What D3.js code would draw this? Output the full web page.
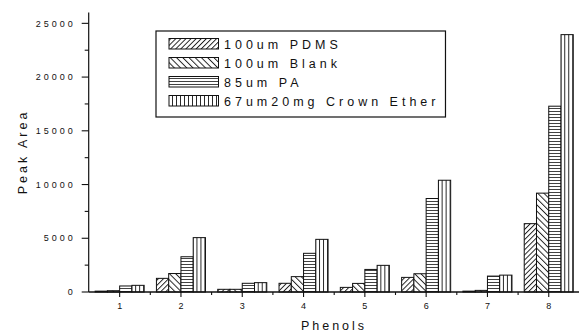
<!DOCTYPE html>
<html>
<head>
<meta charset="utf-8">
<script src="https://cdn.jsdelivr.net/npm/d3@7/dist/d3.min.js"></script>
<style>
  html, body { margin: 0; padding: 0; background: #fff; }
  svg { display: block; }
  text { font-family: "Liberation Sans", Arial, Helvetica, sans-serif; fill: #111; }
</style>
</head>
<body>
<svg id="chart" width="579" height="334"></svg>
<script>
// Phenol peak areas for four SPME fibres
const categories = ["1", "2", "3", "4", "5", "6", "7", "8"];
const seriesNames = ["100um PDMS", "100um Blank", "85um PA", "67um20mg Crown Ether"];
const pdms  = [80, 1270, 250, 810, 430, 1360, 80, 6360];
const blank = [120, 1720, 250, 1430, 800, 1700, 150, 9200];
const pa    = [560, 3280, 810, 3600, 2100, 8700, 1480, 17290];
const crown = [620, 5060, 870, 4900, 2480, 10400, 1570, 23950];
const yTicks = [0, 5000, 10000, 15000, 20000, 25000];
const yMinorTicks = [2500, 7500, 12500, 17500, 22500];
const seriesValues = [pdms, blank, pa, crown];
const patternIds = ["hatch-fwd", "hatch-back", "hatch-horiz", "hatch-vert"];

const svg = d3.select("#chart");
const plotLeft = 88.7, plotRight = 579.4, plotBottom = 292, plotTop = 12.6;

const y = d3.scaleLinear().domain([0, 26000]).range([plotBottom, plotTop]);
const x = d3.scaleBand().domain(categories).range([plotLeft + 0.3, plotRight])
  .paddingInner(0.2).paddingOuter(0.1);
const xs = d3.scaleBand().domain(seriesNames).range([0, x.bandwidth()]);

// hatch fills
const defs = svg.append("defs");
function linePattern(id, size, angle, sw) {
  const p = defs.append("pattern").attr("id", id)
    .attr("patternUnits", "userSpaceOnUse")
    .attr("width", size).attr("height", size);
  if (angle !== null) p.attr("patternTransform", `rotate(${angle})`);
  p.append("rect").attr("width", size).attr("height", size).attr("fill", "#fff");
  p.append("line").attr("x1", 0.5).attr("y1", 0).attr("x2", 0.5).attr("y2", size)
    .attr("stroke", "#111").attr("stroke-width", sw);
}
linePattern("hatch-fwd", 3.6, 45, 0.9);
linePattern("hatch-back", 4.4, -45, 0.9);
linePattern("hatch-horiz", 3, 90, 0.8);
linePattern("hatch-vert", 4, null, 0.9);

// bars
const groups = svg.append("g").selectAll("g")
  .data(categories).join("g")
  .attr("transform", d => `translate(${x(d)},0)`);
groups.selectAll("rect")
  .data((c, i) => seriesNames.map((s, k) => ({ s, k, v: seriesValues[k][i] })))
  .join("rect")
  .attr("x", d => xs(d.s))
  .attr("y", d => y(d.v))
  .attr("width", xs.bandwidth())
  .attr("height", d => plotBottom - y(d.v))
  .attr("fill", d => `url(#${patternIds[d.k]})`)
  .attr("stroke", "#111").attr("stroke-width", 1);

// y axis
const yAxis = svg.append("g").attr("transform", `translate(${plotLeft},0)`);
yAxis.append("line").attr("x1", 0).attr("x2", 0).attr("y1", plotTop).attr("y2", plotBottom)
  .attr("stroke", "#111").attr("stroke-width", 1.2);
yAxis.selectAll(".maj").data(yTicks).join("line")
  .attr("x1", -7).attr("x2", 0).attr("y1", d => y(d)).attr("y2", d => y(d))
  .attr("stroke", "#111").attr("stroke-width", 1.1);
yAxis.selectAll(".min").data(yMinorTicks).join("line")
  .attr("x1", -4).attr("x2", 0).attr("y1", d => y(d)).attr("y2", d => y(d))
  .attr("stroke", "#111").attr("stroke-width", 1.1);
yAxis.selectAll("text").data(yTicks).join("text")
  .attr("x", -13).attr("y", d => y(d) + 3.2)
  .attr("text-anchor", "end")
  .style("font-size", "9px").style("letter-spacing", "3px")
  .text(d => d);

// x axis
const xAxis = svg.append("g");
xAxis.append("line").attr("x1", plotLeft).attr("x2", plotRight).attr("y1", plotBottom).attr("y2", plotBottom)
  .attr("stroke", "#111").attr("stroke-width", 1.4);
xAxis.selectAll(".maj").data(categories).join("line")
  .attr("x1", d => x(d) + x.bandwidth() / 2).attr("x2", d => x(d) + x.bandwidth() / 2)
  .attr("y1", plotBottom).attr("y2", plotBottom + 5)
  .attr("stroke", "#111").attr("stroke-width", 1.1);
xAxis.selectAll(".min").data(categories.slice(1)).join("line")
  .attr("x1", d => x(d) - x.step() * 0.1).attr("x2", d => x(d) - x.step() * 0.1)
  .attr("y1", plotBottom).attr("y2", plotBottom + 3)
  .attr("stroke", "#111").attr("stroke-width", 1.1);
xAxis.selectAll("text").data(categories).join("text")
  .attr("x", d => x(d) + x.bandwidth() / 2).attr("y", plotBottom + 17)
  .attr("text-anchor", "middle")
  .style("font-size", "9px")
  .text(d => d);

// axis titles
svg.append("text").attr("x", 334).attr("y", 330).attr("text-anchor", "middle")
  .style("font-size", "12.5px").style("letter-spacing", "3px").text("Phenols");
svg.append("text").attr("transform", "translate(27,152) rotate(-90)")
  .attr("text-anchor", "middle")
  .style("font-size", "12.5px").style("letter-spacing", "3px").text("Peak Area");

// legend
const lg = svg.append("g");
const rowY = [38.5, 57.5, 76.5, 95.5];
const box = lg.append("rect").attr("x", 156).attr("y", 31).attr("height", 86)
  .attr("fill", "#fff").attr("stroke", "#111").attr("stroke-width", 1.2);
let maxEnd = 0;
seriesNames.forEach((s, k) => {
  lg.append("rect").attr("x", 169).attr("y", rowY[k]).attr("width", 49.5).attr("height", 10.5)
    .attr("fill", `url(#${patternIds[k]})`).attr("stroke", "#111").attr("stroke-width", 1);
  const t = lg.append("text").attr("x", 224).attr("y", rowY[k] + 10.2)
    .style("font-size", "12.5px").style("letter-spacing", "4px").text(s);
  maxEnd = Math.max(maxEnd, 224 + t.node().getComputedTextLength());
});
box.attr("width", maxEnd + 6 - 156);
</script>
</body>
</html>
